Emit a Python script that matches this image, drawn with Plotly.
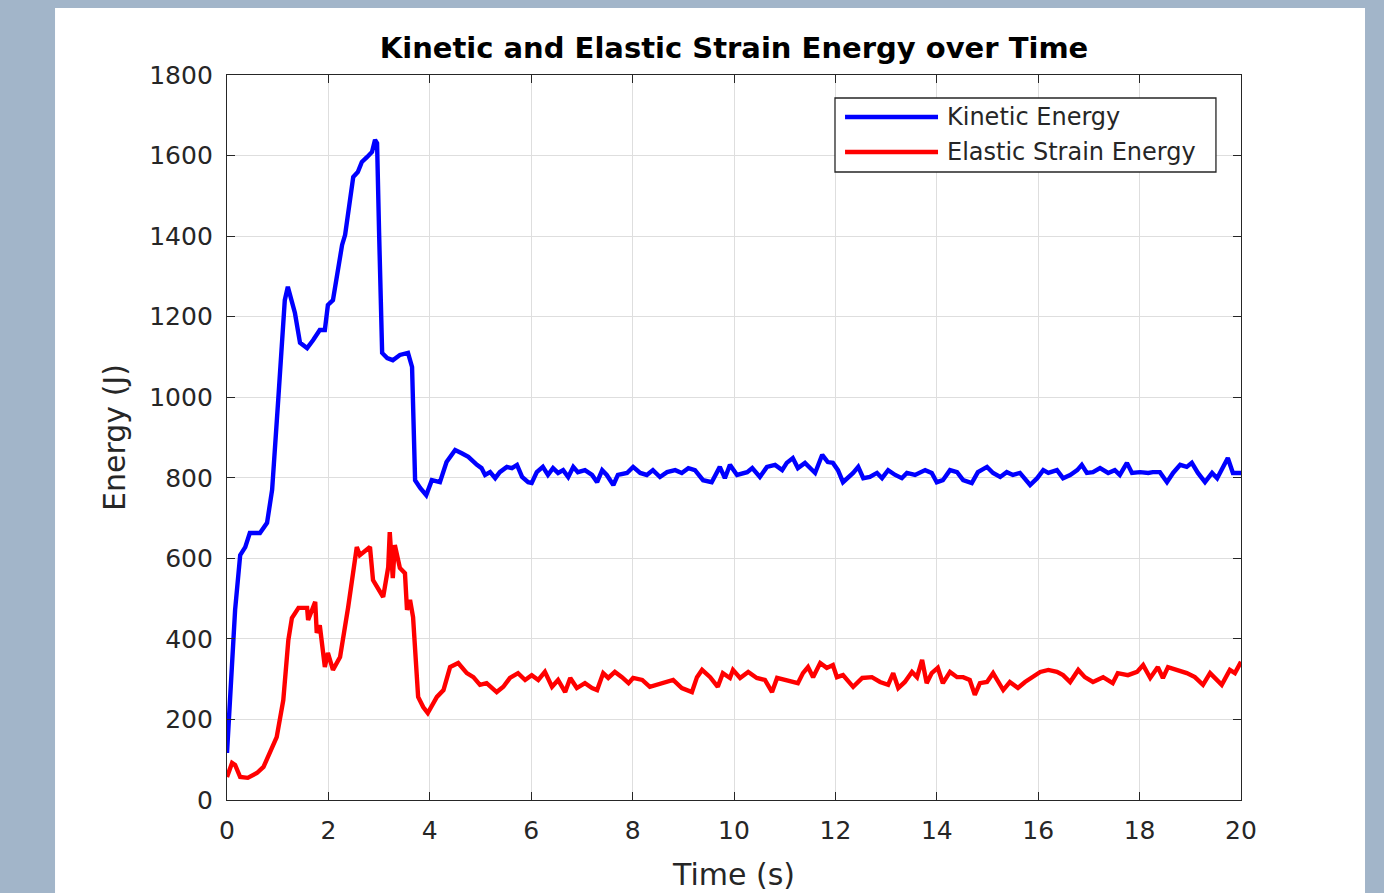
import plotly.graph_objects as go

# ---------------- data ----------------
kin_t = [0, 0.06, 0.16, 0.26, 0.36, 0.45, 0.65, 0.79, 0.89, 1.01, 1.14, 1.2, 1.34, 1.44,
         1.58, 1.7, 1.83, 1.93, 1.99, 2.09, 2.17, 2.27, 2.33, 2.39, 2.49, 2.58, 2.66, 2.76,
         2.86, 2.92, 2.96, 3.0, 3.06, 3.16, 3.27, 3.41, 3.57, 3.65, 3.71, 3.81, 3.93, 4.04,
         4.2, 4.33, 4.5, 4.63, 4.76, 4.93, 5.02, 5.09, 5.19, 5.29, 5.38, 5.52, 5.62, 5.72,
         5.82, 5.94, 6.01, 6.11, 6.23, 6.33, 6.43, 6.53, 6.63, 6.73, 6.83, 6.92, 7.06, 7.2,
         7.3, 7.4, 7.49, 7.62, 7.71, 7.89, 8.01, 8.15, 8.28, 8.4, 8.54, 8.68, 8.84, 8.97,
         9.1, 9.23, 9.39, 9.56, 9.72, 9.82, 9.92, 10.06, 10.26, 10.36, 10.51, 10.65, 10.81,
         10.95, 11.04, 11.16, 11.26, 11.4, 11.6, 11.74, 11.85, 11.95, 12.05, 12.15, 12.25,
         12.35, 12.45, 12.55, 12.68, 12.82, 12.92, 13.04, 13.18, 13.31, 13.41, 13.57, 13.77,
         13.9, 14.0, 14.12, 14.26, 14.4, 14.52, 14.69, 14.81, 14.99, 15.11, 15.25, 15.38,
         15.5, 15.64, 15.84, 15.98, 16.1, 16.2, 16.37, 16.49, 16.63, 16.77, 16.86, 16.96,
         17.08, 17.22, 17.38, 17.51, 17.61, 17.75, 17.85, 18.01, 18.17, 18.26, 18.4, 18.54,
         18.66, 18.8, 18.93, 19.03, 19.15, 19.29, 19.43, 19.53, 19.62, 19.74, 19.84, 20.0]
kin_e = [117, 248, 472, 608, 628, 663, 663, 688, 770, 993, 1241, 1274, 1209, 1135,
         1122, 1142, 1167, 1167, 1229, 1241, 1308, 1378, 1403, 1465, 1547, 1559, 1584, 1596,
         1609, 1639, 1631, 1408, 1110, 1097, 1092, 1105, 1110, 1075, 794, 775, 757, 794,
         789, 839, 869, 861, 852, 832, 824, 807, 814, 799, 814, 827, 824, 832,
         802, 789, 787, 814, 827, 807, 824, 812, 819, 802, 827, 814, 819, 807,
         789, 819, 807, 782, 807, 812, 827, 812, 807, 819, 802, 814, 819, 812,
         824, 819, 794, 789, 827, 799, 832, 807, 814, 824, 802, 827, 832,
         819, 837, 849, 824, 837, 812, 857, 839, 837, 819, 789, 799,
         812, 827, 799, 802, 812, 799, 819, 807, 799, 812, 807, 819,
         812, 789, 794, 819, 814, 794, 787, 814, 827, 812, 802, 814,
         807, 812, 782, 799, 819, 812, 819, 799, 807, 819, 832, 812,
         814, 824, 812, 819, 807, 837, 812, 814, 812, 814, 814, 789,
         812, 832, 827, 837, 812, 789, 812, 799, 819, 849, 812, 812]

ela_t = [0, 0.1, 0.16, 0.26, 0.41, 0.59, 0.72, 0.85, 0.98, 1.11, 1.21, 1.28, 1.41, 1.58,
         1.6, 1.74, 1.77, 1.83, 1.93, 1.99, 2.09, 2.23, 2.39, 2.56, 2.62, 2.82, 2.88, 3.08,
         3.18, 3.21, 3.27, 3.31, 3.41, 3.51, 3.55, 3.61, 3.67, 3.77, 3.87, 3.96, 4.14, 4.27,
         4.4, 4.56, 4.73, 4.86, 4.99, 5.12, 5.32, 5.45, 5.58, 5.74, 5.88, 6.01, 6.14, 6.27,
         6.41, 6.53, 6.67, 6.77, 6.9, 7.06, 7.2, 7.3, 7.42, 7.52, 7.65, 7.79, 7.92, 8.01,
         8.19, 8.34, 8.5, 8.68, 8.8, 8.97, 9.17, 9.27, 9.37, 9.53, 9.68, 9.78, 9.92, 9.98,
         10.12, 10.28, 10.45, 10.61, 10.75, 10.85, 11.04, 11.26, 11.36, 11.46, 11.56, 11.7,
         11.83, 11.95, 12.03, 12.15, 12.35, 12.53, 12.72, 12.88, 13.04, 13.14, 13.24, 13.37,
         13.51, 13.61, 13.71, 13.8, 13.9, 14.02, 14.12, 14.26, 14.4, 14.52, 14.65, 14.75,
         14.85, 14.99, 15.11, 15.31, 15.44, 15.6, 15.74, 15.88, 16.04, 16.2, 16.37, 16.49,
         16.63, 16.79, 16.92, 17.08, 17.28, 17.47, 17.57, 17.77, 17.95, 18.07, 18.21, 18.36,
         18.46, 18.56, 18.74, 18.93, 19.09, 19.25, 19.39, 19.62, 19.78, 19.88, 20.0]
ela_e = [57, 92, 87, 57, 55, 67, 82, 117, 156, 248, 397, 452, 477, 477,
         447, 492, 415, 434, 330, 365, 323, 355, 479, 628, 608, 628, 546, 504,
         578, 665, 551, 633, 576, 563, 472, 497, 454, 256, 231, 216, 256, 273,
         330, 340, 315, 305, 286, 290, 268, 281, 303, 315, 298, 310, 298, 318,
         281, 298, 268, 303, 278, 290, 278, 273, 315, 303, 318, 305, 290, 303,
         298, 281, 286, 293, 298, 278, 268, 305, 323, 305, 281, 315, 303, 323,
         303, 318, 303, 298, 268, 303, 298, 290, 315, 330, 305, 340,
         328, 335, 305, 310, 281, 303, 305, 293, 286, 315, 278, 293,
         318, 305, 348, 290, 315, 328, 290, 318, 305, 305, 298, 261,
         290, 293, 315, 273, 293, 278, 293, 305, 318, 323, 318, 310,
         293, 323, 305, 293, 305, 290, 315, 310, 318, 335, 303, 330,
         303, 330, 323, 315, 305, 286, 315, 286, 323, 315, 343]

series_names = ["Kinetic Energy", "Elastic Strain Energy"]
series_colors = ["#0000FF", "#FF0000"]
x_ticks = [0, 2, 4, 6, 8, 10, 12, 14, 16, 18, 20]
y_ticks = [0, 200, 400, 600, 800, 1000, 1200, 1400, 1600, 1800]

# ---------------- figure ----------------
FONT = "DejaVu Sans"
AX = "#262626"
BG = "#A2B5C9"

fig = go.Figure()
for t, e, name, col in [(kin_t, kin_e, series_names[0], series_colors[0]),
                        (ela_t, ela_e, series_names[1], series_colors[1])]:
    fig.add_trace(go.Scatter(x=t, y=e, mode="lines", name=name,
                             line=dict(color=col, width=4.4)))

axis_common = dict(
    showline=True, linecolor=AX, linewidth=1.3, mirror="ticks",
    ticks="inside", ticklen=8, tickwidth=1.2, tickcolor=AX,
    showgrid=True, gridcolor="#DEDEDE", gridwidth=1, zeroline=False,
    tickfont=dict(family=FONT, size=25, color=AX), automargin=False,
)

fig.update_xaxes(range=[0, 20], tickvals=x_ticks, ticklabelstandoff=8, **axis_common,
                 title=dict(text="Time (s)", font=dict(family=FONT, size=30, color=AX), standoff=19))
fig.update_yaxes(range=[0, 1800], tickvals=y_ticks, ticklabelstandoff=8, **axis_common,
                 title=dict(text="Energy (J)", font=dict(family=FONT, size=30, color=AX), standoff=14))

# white figure panel on grey background
fig.add_shape(type="rect", xref="paper", yref="paper", x0=-0.1696, x1=1.1223, y0=-0.2, y1=1.0924,
              fillcolor="white", line=dict(width=0), layer="below")

# custom legend
lx0, lx1, ly0, ly1 = 0.5996, 0.9753, 0.8662, 0.9683
fig.add_shape(type="rect", xref="paper", yref="paper", x0=lx0, x1=lx1, y0=ly0, y1=ly1,
              fillcolor="white", line=dict(color=AX, width=1.3), layer="above")
for i, (name, col) in enumerate(zip(series_names, series_colors)):
    yy = [0.942, 0.8938][i]
    fig.add_shape(type="line", xref="paper", yref="paper", x0=0.6095, x1=0.7012, y0=yy, y1=yy,
                  line=dict(color=col, width=4.4), layer="above")
    fig.add_annotation(xref="paper", yref="paper", x=0.7081, y=yy, text=name, showarrow=False,
                       xanchor="left", yanchor="middle",
                       font=dict(family=FONT, size=24, color=AX))

fig.update_layout(
    width=1384, height=893,
    margin=dict(l=227, r=143, t=75, b=93),
    paper_bgcolor=BG, plot_bgcolor="white",
    showlegend=False,
    title=dict(text="<b>Kinetic and Elastic Strain Energy over Time</b>", x=0.5, xref="paper",
               xanchor="center", y=1 - 48 / 893, yanchor="middle",
               font=dict(family=FONT, size=29, color="#000000")),
)

fig.write_html(
    "out.html",
    config={"displayModeBar": False},
    post_script=("document.body.style.margin='0';document.body.style.padding='0';"
                 "document.body.style.overflow='hidden';"
                 f"document.body.style.background='{BG}';"),
)
